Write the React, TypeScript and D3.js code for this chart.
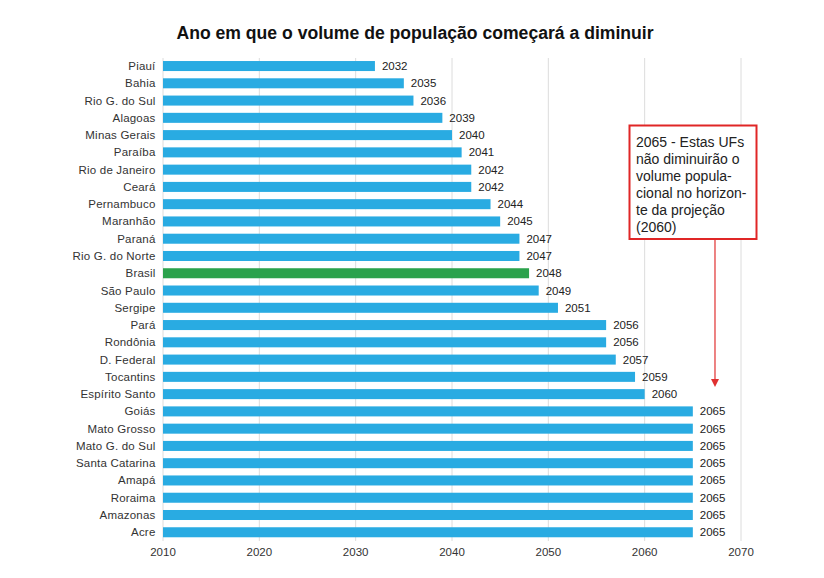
import React from "react";
import * as d3 from "d3";

const categories = ["Piauí","Bahia","Rio G. do Sul","Alagoas","Minas Gerais","Paraíba","Rio de Janeiro","Ceará","Pernambuco","Maranhão","Paraná","Rio G. do Norte","Brasil","São Paulo","Sergipe","Pará","Rondônia","D. Federal","Tocantins","Espírito Santo","Goiás","Mato Grosso","Mato G. do Sul","Santa Catarina","Amapá","Roraima","Amazonas","Acre"];
const years = [2032,2035,2036,2039,2040,2041,2042,2042,2044,2045,2047,2047,2048,2049,2051,2056,2056,2057,2059,2060,2065,2065,2065,2065,2065,2065,2065,2065];
const xTicks = [2010,2020,2030,2040,2050,2060,2070];
const highlight = "Brasil";
const titleText = "Ano em que o volume de população começará a diminuir";
const noteLines = ["2065 - Estas UFs","não diminuirão o","volume popula-","cional no horizon-","te da projeção","(2060)"];
const noteAnchorYear = 2067.3;

const W = 824, H = 578;
const FONT = "'Liberation Sans', Arial, sans-serif";

export default function App() {
  const x = d3.scaleLinear().domain([2010, 2070]).range([163, 741]);
  const y = d3.scaleBand<string>().domain(categories).range([57.4, 540.9]).paddingInner(0.42).paddingOuter(0.21);
  const bw = y.bandwidth();
  const ax = x(noteAnchorYear);
  return (
    <svg width={W} height={H} style={{ position: "absolute", left: 0, top: 0, background: "#fff" }} fontFamily={FONT}>
      <rect width={W} height={H} fill="#fff" />
      <text x={415} y={39} textAnchor="middle" fontSize={17.6} fontWeight="bold" fill="#111">{titleText}</text>
      {xTicks.map((t) => (
        <g key={t}>
          <line x1={x(t)} x2={x(t)} y1={58} y2={541} stroke="#dcdcdc" strokeWidth={1} />
          <text x={x(t)} y={556} textAnchor="middle" fontSize={11.5} fill="#333">{t}</text>
        </g>
      ))}
      {categories.map((c, i) => {
        const yy = y(c)!;
        const cy = yy + bw / 2;
        return (
          <g key={c}>
            <text x={155.5} y={cy + 4} textAnchor="end" fontSize={11.5} letterSpacing={0.2} fill="#333">{c}</text>
            <rect x={x(2010)} y={yy} width={x(years[i]) - x(2010)} height={bw} fill={c === highlight ? "#2ba24c" : "#29abe2"} />
            <text x={x(years[i]) + 7} y={cy + 4} fontSize={11.5} fill="#222">{years[i]}</text>
          </g>
        );
      })}
      <line x1={ax} x2={ax} y1={239} y2={381} stroke="#e03030" strokeWidth={1.2} />
      <path d={`M${ax - 4},${379} L${ax + 4},${379} L${ax},${387} Z`} fill="#e03030" />
      <rect x={629.5} y={125.5} width={127} height={113.5} fill="#fff" stroke="#e02626" strokeWidth={2} />
      {noteLines.map((l, i) => (
        <text key={i} x={636} y={147 + i * 17} fontSize={14} fill="#222">{l}</text>
      ))}
    </svg>
  );
}
